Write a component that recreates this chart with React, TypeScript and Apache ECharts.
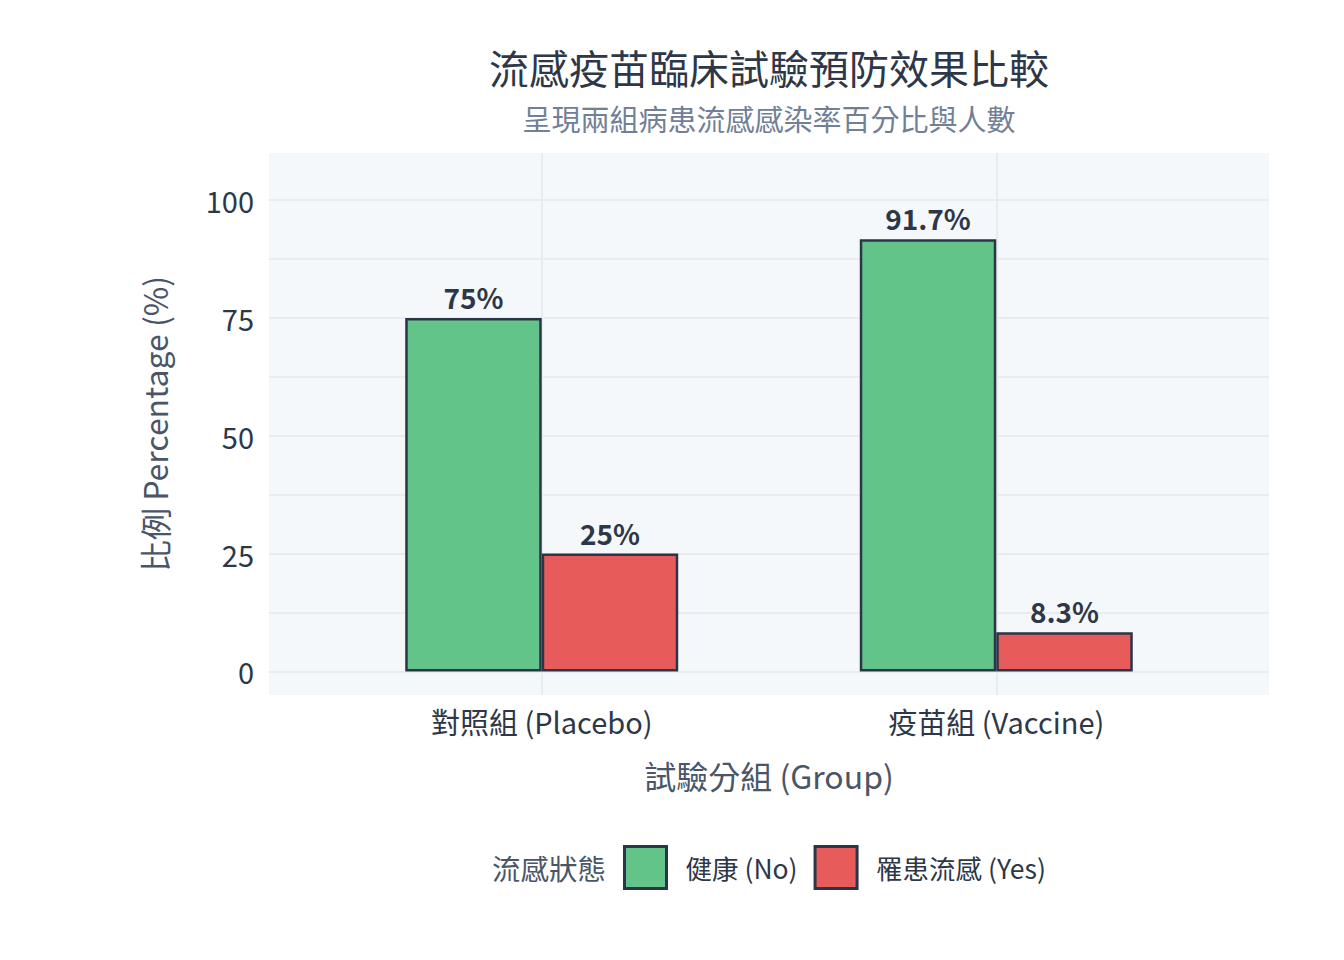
import React, { useEffect, useRef } from "react";
import * as echarts from "echarts";

const groups = ["對照組 (Placebo)", "疫苗組 (Vaccine)"];
const statusNames = ["健康 (No)", "罹患流感 (Yes)"];
const healthyPct = [75, 91.7];
const infectedPct = [25, 8.3];
const yTickLabels = [0, 25, 50, 75, 100];
const yGridValues = [0, 12.5, 25, 37.5, 50, 62.5, 75, 87.5, 100];
const groupPositions = [0, 1];

const FONT = "'Noto Sans CJK TC', 'Noto Sans', sans-serif";
const DARK = "#2d3748";
const GREEN = "#62c489";
const RED = "#e85b5b";
const BORDER = "#2b3548";
const GRID = "#e9ebee";

export default function App() {
  const ref = useRef<HTMLDivElement>(null);

  useEffect(() => {
    if (!ref.current) return;
    const chart = echarts.init(ref.current, undefined, { renderer: "svg" });

    const labelCfg = {
      show: true,
      position: "top",
      distance: 7,
      fontFamily: FONT,
      fontSize: 28,
      fontWeight: "bold",
      color: DARK,
      formatter: (p: any) => `${p.value[1]}%`,
    };

    chart.setOption({
      animation: false,
      backgroundColor: "#ffffff",
      textStyle: { fontFamily: FONT },
      grid: {
        left: 269,
        top: 153,
        width: 1000,
        height: 542,
        show: true,
        backgroundColor: "#f5f8fb",
        borderWidth: 0,
        containLabel: false,
      },
      graphic: [
        {
          type: "text",
          x: 769,
          y: 67,
          style: {
            text: "流感疫苗臨床試驗預防效果比較",
            font: `40px ${FONT}`,
            fill: DARK,
            textAlign: "center",
            textVerticalAlign: "middle",
          },
        },
        {
          type: "text",
          x: 769,
          y: 118,
          style: {
            text: "呈現兩組病患流感感染率百分比與人數",
            font: `29px ${FONT}`,
            fill: "#718096",
            textAlign: "center",
            textVerticalAlign: "middle",
          },
        },
        {
          type: "text",
          x: 492,
          y: 867,
          style: {
            text: "流感狀態",
            font: `28.5px ${FONT}`,
            fill: "#4a5568",
            textAlign: "left",
            textVerticalAlign: "middle",
          },
        },
      ],
      legend: {
        data: statusNames,
        left: 618,
        top: 840,
        orient: "horizontal",
        icon: "rect",
        itemWidth: 42,
        itemHeight: 42,
        itemGap: 16,
        itemStyle: { borderColor: BORDER, borderWidth: 3 },
        textStyle: {
          fontFamily: FONT,
          fontSize: 26.5,
          color: DARK,
          padding: [0, 0, 5, 14],
        },
      },
      xAxis: {
        type: "value",
        min: -0.6,
        max: 1.6,
        name: "試驗分組 (Group)",
        nameLocation: "middle",
        nameGap: 64,
        nameTextStyle: { fontFamily: FONT, fontSize: 32, color: "#4a5568" },
        axisLine: { show: false },
        axisTick: { show: false, customValues: groupPositions },
        axisLabel: {
          customValues: groupPositions,
          formatter: (v: number) => groups[Math.round(v)] ?? "",
          fontFamily: FONT,
          fontSize: 29,
          color: DARK,
          margin: 11,
        },
        splitLine: { show: true, lineStyle: { color: GRID, width: 2 } },
      },
      yAxis: {
        type: "value",
        min: -5,
        max: 110,
        name: "比例 Percentage (%)",
        nameLocation: "middle",
        nameGap: 99,
        nameRotate: 90,
        nameTextStyle: { fontFamily: FONT, fontSize: 32, color: "#4a5568" },
        axisLine: { show: false },
        axisTick: { show: false, customValues: yGridValues },
        axisLabel: {
          customValues: yTickLabels,
          fontFamily: FONT,
          fontSize: 29,
          color: DARK,
          margin: 15,
        },
        splitLine: { show: true, lineStyle: { color: GRID, width: 2 } },
      },
      series: [
        {
          name: statusNames[0],
          type: "bar",
          data: groupPositions.map((x, i) => [x, healthyPct[i]]),
          barWidth: 136.5,
          barGap: "0%",
          itemStyle: { color: GREEN, borderColor: BORDER, borderWidth: 2.5 },
          label: labelCfg,
        },
        {
          name: statusNames[1],
          type: "bar",
          data: groupPositions.map((x, i) => [x, infectedPct[i]]),
          barWidth: 136.5,
          barGap: "0%",
          itemStyle: { color: RED, borderColor: BORDER, borderWidth: 2.5 },
          label: labelCfg,
        },
      ],
    });

    return () => chart.dispose();
  }, []);

  return (
    <div
      ref={ref}
      style={{ position: "fixed", left: 0, top: 0, width: 1344, height: 960 }}
    />
  );
}
